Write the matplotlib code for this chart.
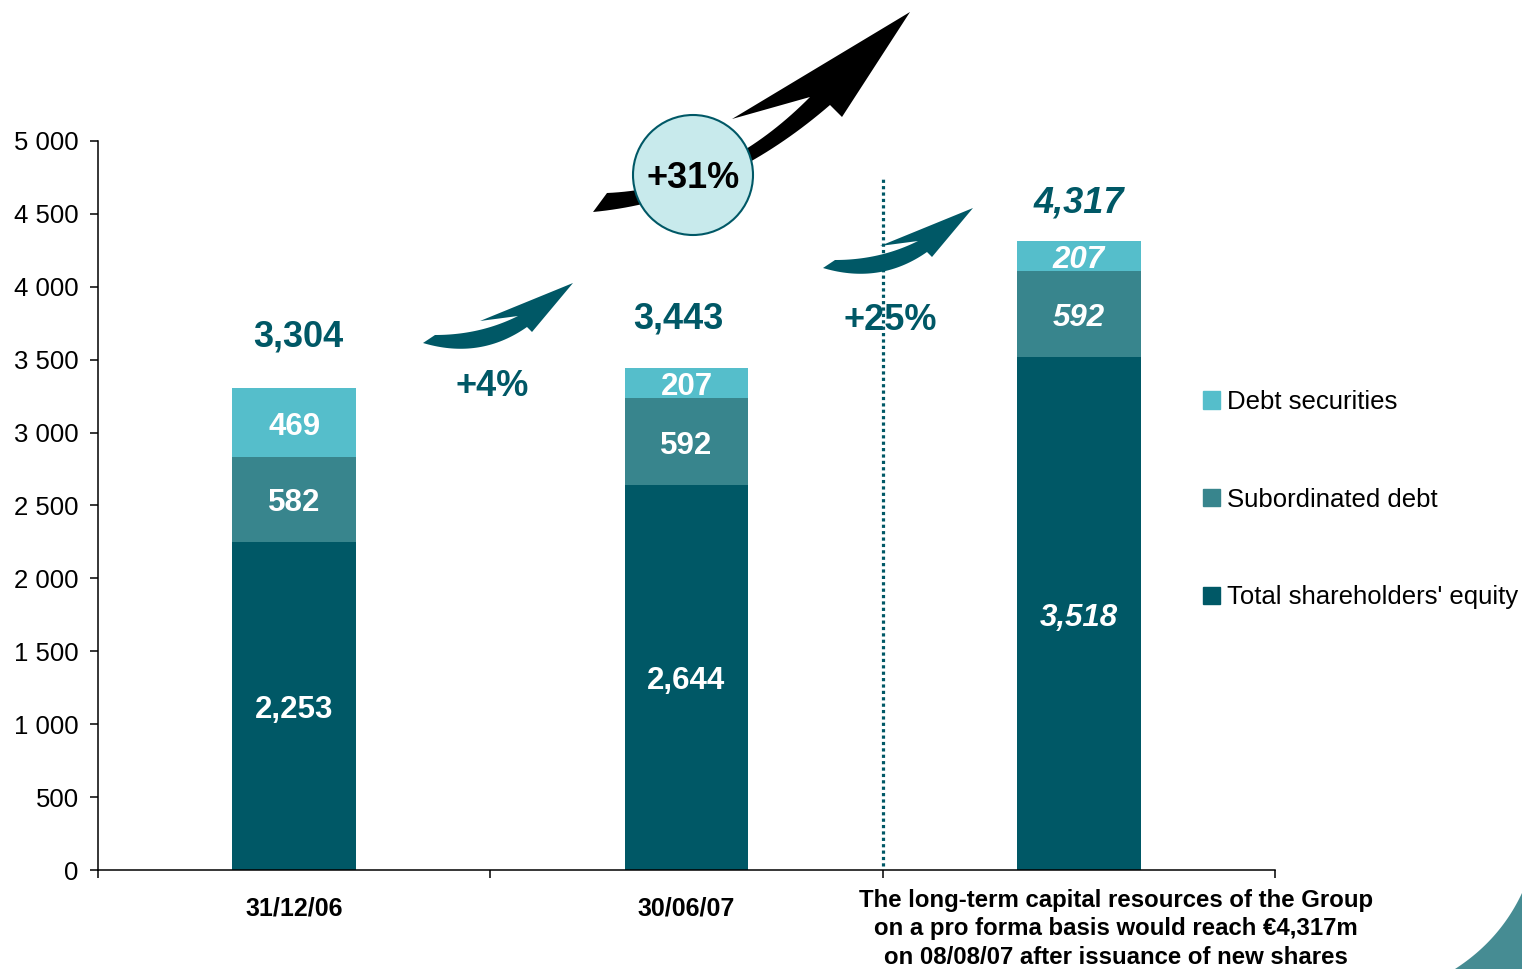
"""Stacked bars: long-term capital resources of the Group."""

import numpy as np
import matplotlib

matplotlib.use("Agg")
import matplotlib.pyplot as plt
from matplotlib.patches import Polygon, Ellipse, Patch
from matplotlib.ticker import FuncFormatter

plt.rcParams["font.family"] = ["Liberation Sans", "DejaVu Sans"]

W, H = 1522, 969

categories = ["31/12/06", "30/06/07", ""]
equity = [2253, 2644, 3518]
subordinated = [582, 592, 592]
debt_securities = [469, 207, 207]
totals = [3304, 3443, 4317]
growth = ["+4%", "+25%", "+31%"]
yticks = list(range(0, 5001, 500))
series_names = ["Total shareholders' equity", "Subordinated debt", "Debt securities"]
note = ("The long-term capital resources of the Group\n"
        "on a pro forma basis would reach €4,317m\n"
        "on 08/08/07 after issuance of new shares")

DARK = "#005866"
MID = "#38858D"
LIGHT = "#55BECB"


def qbez(p0, c, p1, n=40):
    t = np.linspace(0, 1, n)[:, None]
    p0, c, p1 = (np.asarray(p, float) for p in (p0, c, p1))
    return (1 - t) ** 2 * p0 + 2 * t * (1 - t) * c + t ** 2 * p1


def to_fig(pts):
    pts = np.asarray(pts, float)
    return np.column_stack([pts[:, 0] / W, 1 - pts[:, 1] / H])


def curved_arrow(ax, tail_lo, lo_ctrl, lo_end, barb_r, tip, barb_l, notch,
                 up_ctrl, tail_up, color, z=3, shift=(0, 0)):
    lower = qbez(tail_lo, lo_ctrl, lo_end)
    upper = qbez(notch, up_ctrl, tail_up)
    pts = np.vstack([lower, [barb_r, tip, barb_l], upper]) + np.asarray(shift)
    ax.add_patch(Polygon(to_fig(pts), closed=True, transform=ax.figure.transFigure,
                         facecolor=color, edgecolor="none", zorder=z, clip_on=False))


fig = plt.figure(figsize=(W / 100, H / 100), dpi=100)
ax = fig.add_axes([98 / W, 1 - 870 / H, (1275 - 98) / W, (870 - 141) / H])

x = np.arange(len(equity))
bw = 0.316
ax.bar(x, equity, bw, color=DARK, zorder=2)
ax.bar(x, subordinated, bw, bottom=equity, color=MID, zorder=2)
bottom3 = np.add(equity, subordinated)
ax.bar(x, debt_securities, bw, bottom=bottom3, color=LIGHT, zorder=2)

# segment labels (last bar is pro forma -> italic)
for i in x:
    style = "italic" if i == 2 else "normal"
    for vals, base in ((equity, 0), (subordinated, equity[i]), (debt_securities, bottom3[i])):
        ax.annotate(f"{vals[i]:,}", (i, base + vals[i] / 2), xytext=(0, -3),
                    textcoords="offset points", ha="center", va="center",
                    color="white", fontsize=22.5, fontweight="bold", style=style, zorder=4)

total_offsets = [(3, 37), (-6, 35), (0, 27)]
for i in x:
    ax.annotate(f"{totals[i]:,}", (i, totals[i]), xytext=total_offsets[i],
                textcoords="offset points", ha="center", va="center", color=DARK,
                fontsize=26, fontweight="bold", style="italic" if i == 2 else "normal")

ax.set_xlim(-0.5, 2.5)
ax.set_ylim(0, 5000)
ax.set_yticks(yticks)
ax.yaxis.set_major_formatter(FuncFormatter(lambda v, p: f"{v:,.0f}".replace(",", " ")))
ax.set_xticks([-0.5, 0.5, 1.5, 2.5])
ax.set_xticklabels([])
ax.tick_params(axis="both", direction="out", length=6, width=1.1, labelsize=18.5, pad=8)
for s in ("top", "right"):
    ax.spines[s].set_visible(False)
for s in ("left", "bottom"):
    ax.spines[s].set_linewidth(1.1)

for i, lab in enumerate(categories):
    if lab:
        ax.text(i, -39 / 729, lab, transform=ax.get_xaxis_transform(), ha="center",
                va="center", fontsize=18, fontweight="bold")
fig.text(1116 / W, 1 - 929 / H, note, ha="center", va="center", fontsize=17.3,
         fontweight="bold", linespacing=1.3)

# separator between reported and pro forma
ax.plot([1.5, 1.5], [30, 4750], color=DARK, lw=2.3, linestyle=(0, (1, 1)),
        zorder=6, clip_on=False)

# growth arrows
small = dict(tail_lo=(423, 343), lo_ctrl=(480, 360), lo_end=(527, 327), barb_r=(532, 332),
             tip=(573, 283), barb_l=(480, 321), notch=(518, 316), up_ctrl=(480, 335),
             tail_up=(435, 335))
curved_arrow(ax, color=DARK, **small)
curved_arrow(ax, color=DARK, shift=(400, -75), **small)
curved_arrow(ax, (593, 212), (720, 200), (830, 105), (842, 117), (910, 12), (732, 119),
             (810, 97), (720, 188), (607, 193), color="black")
ax.add_patch(Ellipse((693 / W, 1 - 175 / H), 120 / W, 120 / H, transform=fig.transFigure,
                     facecolor="#C8EAEC", edgecolor=DARK, lw=1.5, zorder=4, clip_on=False))

ax.text(492 / W, 1 - 386 / H, growth[0], transform=fig.transFigure, ha="center",
        va="center", color=DARK, fontsize=26, fontweight="bold", zorder=5)
ax.text(890 / W, 1 - 321 / H, growth[1], transform=fig.transFigure, ha="center",
        va="center", color=DARK, fontsize=26, fontweight="bold", zorder=5)
ax.text(693 / W, 1 - 178 / H, growth[2], transform=fig.transFigure, ha="center",
        va="center", color="black", fontsize=26, fontweight="bold", zorder=5)

# corner decoration
corner = np.vstack([qbez((1455, 969), (1500, 940), (1522, 893)), [(1522, 969)]])
fig.add_artist(Polygon(to_fig(corner), closed=True, transform=fig.transFigure,
                       facecolor="#468C93", edgecolor="none"))

handles = [Patch(color=LIGHT), Patch(color=MID), Patch(color=DARK)]
fig.legend(handles, series_names[::-1], loc="upper left",
           bbox_to_anchor=(1203 / W, 1 - 390 / H), frameon=False, fontsize=18.5,
           borderpad=0, borderaxespad=0, handlelength=0.65, handleheight=0.65,
           handletextpad=0.3, labelspacing=2.87)

fig.savefig("out.png", dpi=100)
